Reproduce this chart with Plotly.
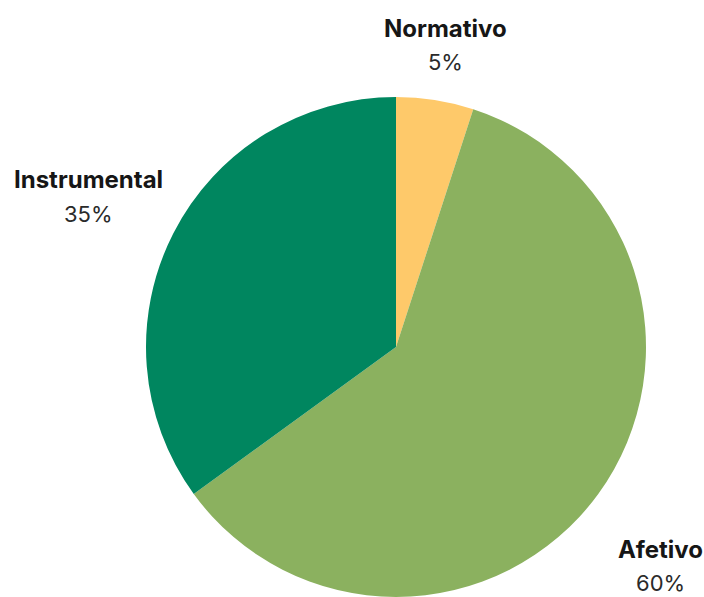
import plotly.graph_objects as go

labels = ["Normativo", "Afetivo", "Instrumental"]
values = [5, 60, 35]
colors = ["#FEC96A", "#8BB15F", "#00865F"]
label_pos = {"Normativo": (445, 28), "Afetivo": (660, 549), "Instrumental": (88, 180)}

W, H = 704, 597
fig = go.Figure(go.Pie(
    labels=labels, values=values, sort=False, direction="clockwise", rotation=0,
    marker=dict(colors=colors, line=dict(width=0)), textinfo="none", hoverinfo="label+percent",
    domain=dict(x=[143 / W, 649 / W], y=[0, (H - 97) / H]),
    showlegend=False,
))

for lab, val in zip(labels, values):
    x, y = label_pos[lab]
    fig.add_annotation(x=x / W, y=1 - y / H, xref="paper", yref="paper", text=f"<b>{lab}</b>",
                       showarrow=False, font=dict(family="Inter", size=24, color="#161616"),
                       xanchor="center", yanchor="middle")
    fig.add_annotation(x=x / W, y=1 - (y + 34) / H, xref="paper", yref="paper", text=f"{val}%",
                       showarrow=False, font=dict(family="Inter", size=22, color="#2a2a2a"),
                       xanchor="center", yanchor="middle", borderpad=0)

fig.update_layout(width=W, height=H, margin=dict(l=0, r=0, t=0, b=0),
                  paper_bgcolor="white", plot_bgcolor="white")
fig.write_html("out.html")
